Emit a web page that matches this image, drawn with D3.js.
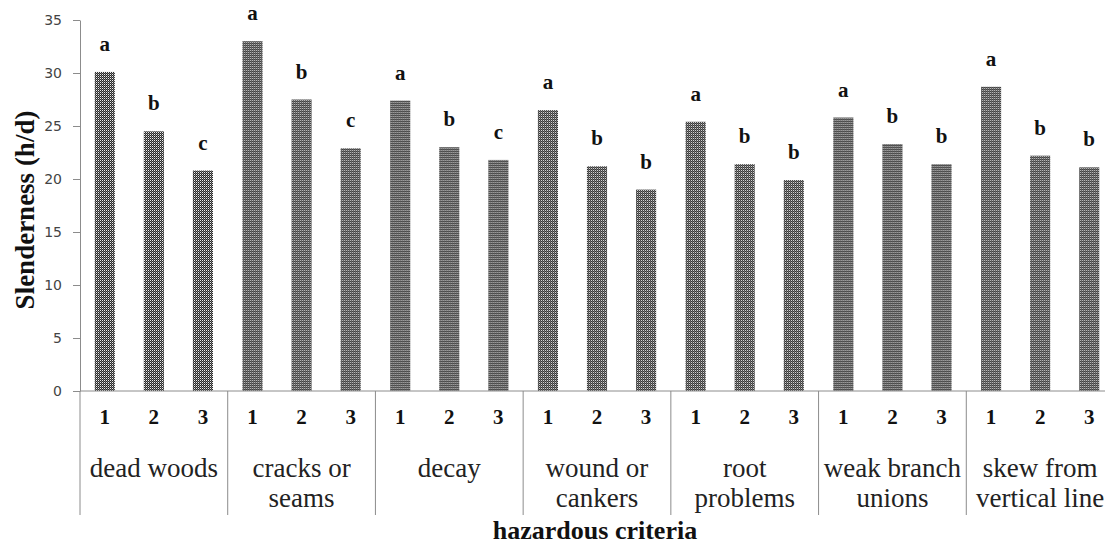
<!DOCTYPE html>
<html>
<head>
<meta charset="utf-8">
<script src="https://cdn.jsdelivr.net/npm/d3@7"></script>
<style>
  body { margin: 0; background: #fff; }
  svg { display: block; }
</style>
</head>
<body>
<div id="chart"></div>
<script>
const width = 1105;
const height = 546;

const categories = [
  ['dead woods'],
  ['cracks or', 'seams'],
  ['decay'],
  ['wound or', 'cankers'],
  ['root', 'problems'],
  ['weak branch', 'unions'],
  ['skew from', 'vertical line']
];
const levels = ['1', '2', '3'];
const values = [
  [30.1, 24.5, 20.8],
  [33.0, 27.5, 22.9],
  [27.4, 23.0, 21.8],
  [26.5, 21.2, 19.0],
  [25.4, 21.4, 19.9],
  [25.8, 23.3, 21.4],
  [28.7, 22.2, 21.1]
];
const letters = [
  ['a', 'b', 'c'],
  ['a', 'b', 'c'],
  ['a', 'b', 'c'],
  ['a', 'b', 'b'],
  ['a', 'b', 'b'],
  ['a', 'b', 'b'],
  ['a', 'b', 'b']
];
const yTicks = [0, 5, 10, 15, 20, 25, 30, 35];

const plotLeft = 80, plotRight = 1114, plotTop = 20, plotBottom = 391;
const serif = 'Liberation Serif, Times New Roman, serif';

const svg = d3.select('#chart')
  .append('svg')
  .attr('width', width)
  .attr('height', height);

// dither pattern for the bars
const pat = svg.append('defs').append('pattern')
  .attr('id', 'dots')
  .attr('width', 2)
  .attr('height', 2)
  .attr('patternUnits', 'userSpaceOnUse');
pat.append('rect').attr('width', 2).attr('height', 2).attr('fill', '#2a2a2a');
pat.append('rect').attr('width', 1).attr('height', 1).attr('fill', '#eeeeee');
pat.append('rect').attr('x', 1).attr('y', 1).attr('width', 1).attr('height', 1).attr('fill', '#777');

const x0 = d3.scaleBand()
  .domain(d3.range(categories.length))
  .range([plotLeft, plotRight]);

const x1 = d3.scaleBand()
  .domain(levels)
  .range([0, x0.bandwidth()])
  .paddingInner(0.59)
  .paddingOuter(0.3);

const y = d3.scaleLinear()
  .domain([0, 35])
  .range([plotBottom, plotTop]);

// y axis
const yAxis = svg.append('g')
  .attr('transform', `translate(${plotLeft},0)`)
  .call(d3.axisLeft(y).tickValues(yTicks).tickSize(7).tickSizeOuter(0).tickPadding(11));
yAxis.select('.domain').attr('stroke', '#8c8c8c');
yAxis.selectAll('.tick line').attr('stroke', '#8c8c8c');
yAxis.selectAll('.tick text')
  .style('font-family', 'DejaVu Sans, Verdana, sans-serif')
  .style('font-size', '14px')
  .style('fill', '#444');

// bars
const groups = svg.selectAll('.grp')
  .data(values)
  .enter()
  .append('g')
  .attr('class', 'grp')
  .attr('transform', (d, i) => `translate(${x0(i)},0)`);

groups.selectAll('rect')
  .data(d => d)
  .enter()
  .append('rect')
  .attr('x', (d, j) => x1(levels[j]))
  .attr('y', d => y(d))
  .attr('width', x1.bandwidth())
  .attr('height', d => y(0) - y(d))
  .attr('fill', 'url(#dots)');

groups.selectAll('.sig')
  .data((d, i) => d.map((v, j) => ({ v: v, t: letters[i][j] })))
  .enter()
  .append('text')
  .attr('class', 'sig')
  .attr('x', (d, j) => x1(levels[j]) + x1.bandwidth() / 2)
  .attr('y', d => y(d.v) - 21)
  .attr('text-anchor', 'middle')
  .style('font-family', serif)
  .style('font-weight', 'bold')
  .style('font-size', '21px')
  .style('fill', '#111')
  .text(d => d.t);

groups.selectAll('.lvl')
  .data(levels)
  .enter()
  .append('text')
  .attr('class', 'lvl')
  .attr('x', d => x1(d) + x1.bandwidth() / 2)
  .attr('y', 424)
  .attr('text-anchor', 'middle')
  .style('font-family', serif)
  .style('font-weight', 'bold')
  .style('font-size', '21px')
  .style('fill', '#111')
  .text(d => d);

groups.append('text')
  .attr('x', x0.bandwidth() / 2)
  .attr('y', 477)
  .attr('text-anchor', 'middle')
  .style('font-family', serif)
  .style('font-size', '27px')
  .style('fill', '#222')
  .selectAll('tspan')
  .data((d, i) => categories[i])
  .enter()
  .append('tspan')
  .attr('x', x0.bandwidth() / 2)
  .attr('dy', (d, k) => k === 0 ? 0 : 30)
  .text(d => d);

// x axis line and group separators
svg.append('line')
  .attr('x1', plotLeft).attr('x2', plotRight)
  .attr('y1', y(0)).attr('y2', y(0))
  .attr('stroke', '#8c8c8c');

svg.selectAll('.sep')
  .data(d3.range(categories.length + 1))
  .enter()
  .append('line')
  .attr('class', 'sep')
  .attr('x1', i => i < categories.length ? x0(i) : plotRight)
  .attr('x2', i => i < categories.length ? x0(i) : plotRight)
  .attr('y1', y(0))
  .attr('y2', 515)
  .attr('stroke', '#8c8c8c');

// axis titles
svg.append('text')
  .attr('transform', 'translate(34,210) rotate(-90)')
  .attr('text-anchor', 'middle')
  .style('font-family', serif)
  .style('font-weight', 'bold')
  .style('font-size', '27px')
  .style('fill', '#111')
  .text('Slenderness (h/d)');

svg.append('text')
  .attr('x', 595)
  .attr('y', 539)
  .attr('text-anchor', 'middle')
  .style('font-family', serif)
  .style('font-weight', 'bold')
  .style('font-size', '26px')
  .style('fill', '#111')
  .text('hazardous criteria');
</script>
</body>
</html>
